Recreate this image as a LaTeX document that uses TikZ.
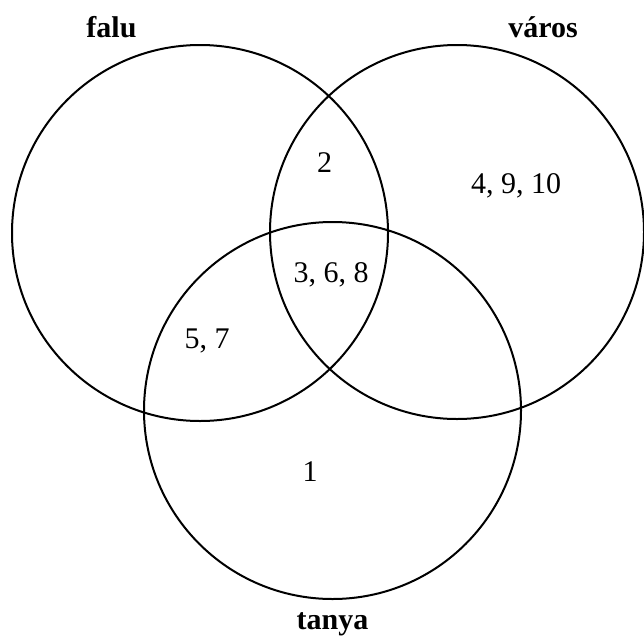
\documentclass[tikz,border=0pt]{standalone}
\usepackage{fontspec}
\setmainfont{Liberation Serif}
\begin{document}
\begin{tikzpicture}[x=1pt,y=-1pt,
  setcircle/.style={circle, draw=black, line width=2pt, inner sep=0pt, outer sep=0pt},
  setlabel/.style={anchor=base, inner sep=0pt, font=\fontsize{30}{36}\selectfont\bfseries},
  numlabel/.style={anchor=base, inner sep=0pt, font=\fontsize{30}{36}\selectfont}]
\useasboundingbox (0,0) rectangle (644,637);
\node[setcircle, minimum size=376pt] (falu) at (200,233) {};
\node[setcircle, minimum size=374pt] (varos) at (457,232) {};
\node[setcircle, minimum size=377pt] (tanya) at (332.5,410.5) {};
\node[setlabel] (lfalu) at (111.5,37) {falu};
\node[setlabel] (lvaros) at (543,37) {város};
\node[setlabel] (ltanya) at (332.5,629) {tanya};
\node[numlabel] (n2) at (324.5,172) {2};
\node[numlabel] (n4910) at (516,193) {4, 9, 10};
\node[numlabel] (n368) at (331,282) {3, 6, 8};
\node[numlabel] (n57) at (207,348) {5, 7};
\node[numlabel] (n1) at (310,481) {1};
\end{tikzpicture}
\end{document}
